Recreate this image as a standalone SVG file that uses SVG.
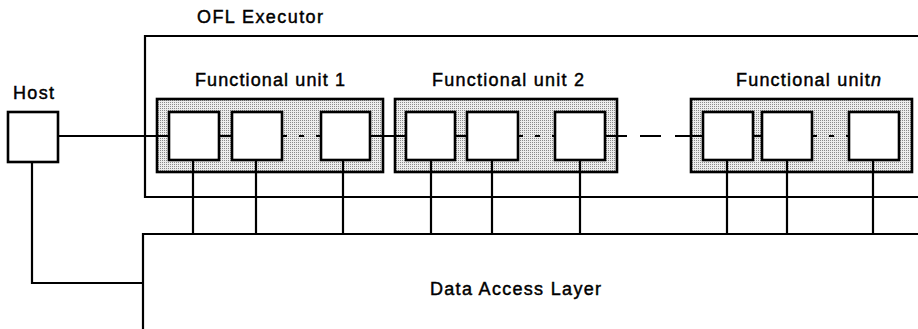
<svg xmlns="http://www.w3.org/2000/svg" width="918" height="329" viewBox="0 0 918 329">
<defs>
<pattern id="stip" width="2" height="2" patternUnits="userSpaceOnUse">
<rect width="2" height="2" fill="#ededed"/>
<rect x="0" y="0" width="1" height="1" fill="#8a8a8a"/>
</pattern>
</defs>
<style>
.ln{fill:none;stroke:#000;stroke-width:2.2}
.box{fill:#fff;stroke:#000;stroke-width:2.6}
.fu{fill:url(#stip);stroke:#000;stroke-width:2.6}
.dot{fill:none;stroke:#000;stroke-width:2;stroke-dasharray:5 12}
.t{font-family:"Liberation Sans",Arial,sans-serif;font-size:18px;fill:#000;stroke:#000;stroke-width:0.45}
</style>
<rect width="918" height="329" fill="#fff"/>

<g id="executor">
<path class="ln" d="M920 36 H145 V197 H920"/>
<text class="t" x="197" y="23" textLength="126" lengthAdjust="spacing">OFL Executor</text>
</g>

<g id="data-access-layer">
<path class="ln" d="M920 234 H143 V330"/>
<text class="t" x="430" y="295" textLength="171" lengthAdjust="spacing">Data Access Layer</text>
</g>

<g id="host">
<rect class="box" x="8" y="112" width="50" height="50"/>
<text class="t" x="13" y="99" textLength="41" lengthAdjust="spacing">Host</text>
</g>

<g id="fu1">
<rect class="fu" x="157" y="99" width="226" height="73"/>
<rect class="box" x="169" y="112" width="50" height="48"/>
<rect class="box" x="232" y="112" width="50" height="48"/>
<rect class="box" x="321" y="112" width="49" height="48"/>
<text class="t" x="195" y="86" textLength="150" lengthAdjust="spacing">Functional unit 1</text>
</g>

<g id="fu2">
<rect class="fu" x="395" y="99" width="222" height="73"/>
<rect class="box" x="406" y="112" width="49" height="48"/>
<rect class="box" x="467" y="112" width="51" height="48"/>
<rect class="box" x="555" y="112" width="50" height="48"/>
<text class="t" x="432" y="86" textLength="152" lengthAdjust="spacing">Functional unit 2</text>
</g>

<g id="fun">
<rect class="fu" x="691" y="99" width="221" height="73"/>
<rect class="box" x="703" y="112" width="50" height="48"/>
<rect class="box" x="762" y="112" width="50" height="48"/>
<rect class="box" x="849" y="112" width="50" height="48"/>
<text class="t" x="736" y="86" textLength="145" lengthAdjust="spacing">Functional unit<tspan font-style="italic">n</tspan></text>
</g>

<g id="connectors">
<path class="ln" d="M58 136 H169"/>
<path class="ln" d="M32 162 V283 H143"/>
<path class="ln" d="M219 136 H232"/>
<path class="dot" d="M282 136 H321"/>
<path class="ln" d="M370 136 H406"/>
<path class="ln" d="M455 136 H467"/>
<path class="dot" d="M518 136 H555"/>
<path class="ln" d="M605 136 H627 M640 136 H661 M675 136 H703"/>
<path class="ln" d="M753 136 H762"/>
<path class="dot" d="M812 136 H849"/>
<path class="ln" d="M193 160 V234 M256 160 V234 M343 160 V234 M431 160 V234 M492 160 V234 M580 160 V234 M727 160 V234 M787 160 V234 M873 160 V234"/>
</g>
</svg>
